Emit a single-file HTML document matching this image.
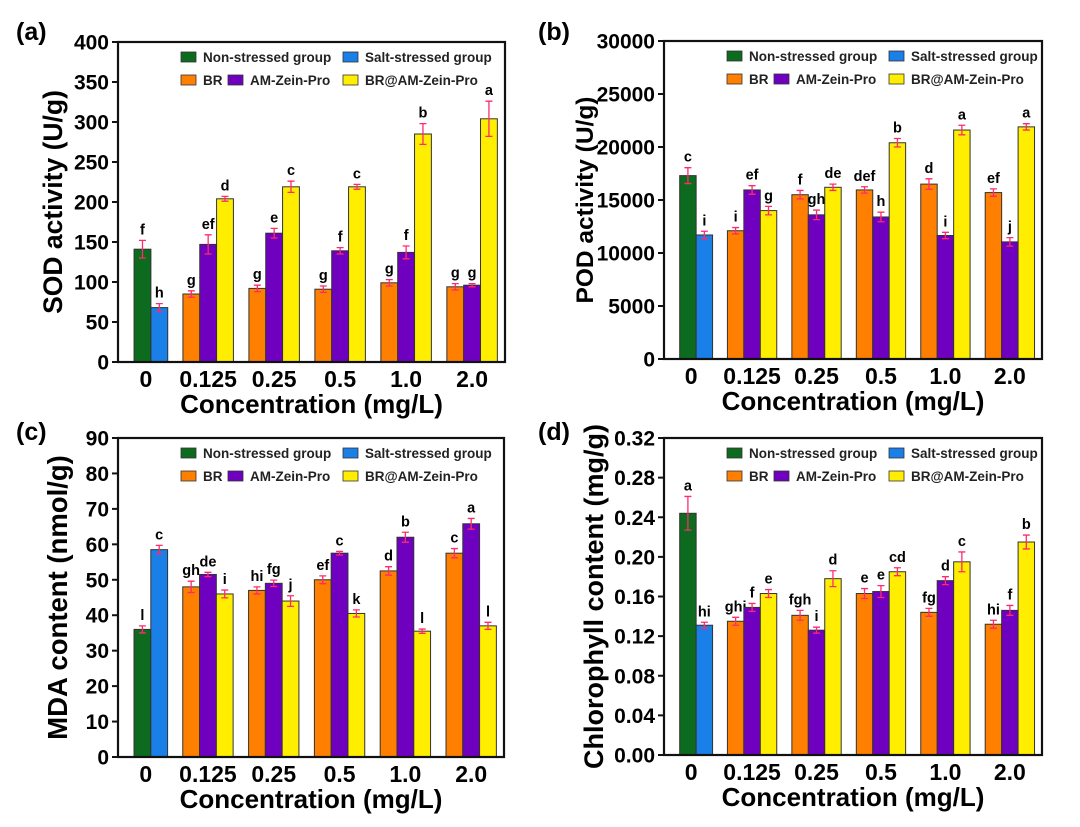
<!DOCTYPE html>
<html><head><meta charset="utf-8"><style>
html,body{margin:0;padding:0;background:#fff}
svg text{font-family:"Liberation Sans",Arial,sans-serif;font-weight:bold}
</style></head><body>
<svg id="fig" width="1080" height="822" viewBox="0 0 1080 822" xmlns="http://www.w3.org/2000/svg"></svg>
<script>
// categories
const categories = ["0","0.125","0.25","0.5","1.0","2.0"];
const seriesNames = ["Non-stressed group","Salt-stressed group","BR","AM-Zein-Pro","BR@AM-Zein-Pro"];
// (a) SOD
const sodCtrl = [141, 68], sodCtrlErr = [11, 5], sodCtrlLet = ["f","h"];
const sodBR = [85, 92, 91, 99, 94], sodBRErr = [4, 4, 4, 4, 4], sodBRLet = ["g","g","g","g","g"];
const sodAM = [147, 161, 139, 137, 96], sodAMErr = [12, 6, 4, 8, 2], sodAMLet = ["ef","e","f","f","g"];
const sodBA = [204, 219, 219, 285, 304], sodBAErr = [3, 7, 3, 13, 22], sodBALet = ["d","c","c","b","a"];
const sodTicks = ["0","50","100","150","200","250","300","350","400"];
// (b) POD
const podCtrl = [17300, 11700], podCtrlErr = [750, 350], podCtrlLet = ["c","i"];
const podBR = [12100, 15500, 15950, 16500, 15700], podBRErr = [300, 400, 300, 500, 350], podBRLet = ["i","f","def","d","ef"];
const podAM = [15950, 13600, 13400, 11650, 11050], podAMErr = [400, 450, 450, 300, 400], podAMLet = ["ef","gh","h","i","j"];
const podBA = [14000, 16200, 20400, 21600, 21900], podBAErr = [400, 300, 400, 450, 300], podBALet = ["g","de","b","a","a"];
const podTicks = ["0","5000","10000","15000","20000","25000","30000"];
// (c) MDA
const mdaCtrl = [36, 58.5], mdaCtrlErr = [1, 1.2], mdaCtrlLet = ["l","c"];
const mdaBR = [48, 47, 50, 52.5, 57.5], mdaBRErr = [1.6, 1, 1.1, 1.2, 1.3], mdaBRLet = ["gh","hi","ef","d","c"];
const mdaAM = [51.5, 49, 57.5, 62, 65.8], mdaAMErr = [0.6, 0.9, 0.5, 1.4, 1.5], mdaAMLet = ["de","fg","c","b","a"];
const mdaBA = [46, 44, 40.5, 35.5, 37], mdaBAErr = [1.1, 1.5, 1, 0.6, 1], mdaBALet = ["i","j","k","l","l"];
const mdaTicks = ["0","10","20","30","40","50","60","70","80","90"];
// (d) Chlorophyll
const chlCtrl = [0.244, 0.131], chlCtrlErr = [0.017, 0.003], chlCtrlLet = ["a","hi"];
const chlBR = [0.135, 0.141, 0.163, 0.144, 0.132], chlBRErr = [0.004, 0.005, 0.005, 0.004, 0.004], chlBRLet = ["ghi","fgh","e","fg","hi"];
const chlAM = [0.149, 0.126, 0.165, 0.176, 0.146], chlAMErr = [0.004, 0.003, 0.006, 0.004, 0.005], chlAMLet = ["f","i","e","d","f"];
const chlBA = [0.163, 0.178, 0.185, 0.195, 0.215], chlBAErr = [0.004, 0.008, 0.004, 0.01, 0.007], chlBALet = ["e","d","cd","c","b"];
const chlTicks = ["0.00","0.04","0.08","0.12","0.16","0.20","0.24","0.28","0.32"];

const colors = ["#0d6b1f","#1a7fe6","#ff7f00","#7000c0","#ffee00"];
const NS = "http://www.w3.org/2000/svg";
const svg = document.getElementById("fig");
function mk(tag, attrs, parent) {
  const e = document.createElementNS(NS, tag);
  for (const k in attrs) e.setAttribute(k, attrs[k]);
  (parent || svg).appendChild(e);
  return e;
}
function txt(s, attrs, parent) { const t = mk("text", attrs, parent); t.textContent = s; return t; }

const panels = [
  {id:"a", label:"(a)", L:118, T:42, W:387, H:320, ticks:sodTicks, ymax:400, title:"SOD activity (U/g)", titleX:53, tfs:26.5, lx:16, ly:40,
   ctrl:sodCtrl, ctrlErr:sodCtrlErr, ctrlLet:sodCtrlLet, s:[[sodBR,sodBRErr,sodBRLet],[sodAM,sodAMErr,sodAMLet],[sodBA,sodBAErr,sodBALet]]},
  {id:"b", label:"(b)", L:664, T:41, W:378, H:318, ticks:podTicks, ymax:30000, title:"POD activity (U/g)", titleX:584, tfs:24.5, lx:538, ly:40,
   ctrl:podCtrl, ctrlErr:podCtrlErr, ctrlLet:podCtrlLet, s:[[podBR,podBRErr,podBRLet],[podAM,podAMErr,podAMLet],[podBA,podBAErr,podBALet]]},
  {id:"c", label:"(c)", L:118, T:438, W:386, H:319, ticks:mdaTicks, ymax:90, title:"MDA content  (nmol/g)", titleX:58, tfs:27.5, lx:16, ly:440,
   ctrl:mdaCtrl, ctrlErr:mdaCtrlErr, ctrlLet:mdaCtrlLet, s:[[mdaBR,mdaBRErr,mdaBRLet],[mdaAM,mdaAMErr,mdaAMLet],[mdaBA,mdaBAErr,mdaBALet]]},
  {id:"d", label:"(d)", L:664, T:438, W:378, H:317, ticks:chlTicks, ymax:0.32, title:"Chlorophyll content (mg/g)", titleX:594, tfs:27, lx:538, ly:440,
   ctrl:chlCtrl, ctrlErr:chlCtrlErr, ctrlLet:chlCtrlLet, s:[[chlBR,chlBRErr,chlBRLet],[chlAM,chlAMErr,chlAMLet],[chlBA,chlBAErr,chlBALet]]}
];

panels.forEach(p => {
  const g = mk("g", {});
  
  
  const y = v => p.T + p.H - v / p.ymax * p.H;
  const bw = p.W * 0.0435;
  const gx = i => p.L + p.W * (i === 0 ? 0.085 : 0.233 + 0.1705 * (i - 1));
  const pl = txt(p.label, {x:p.lx, y:p.ly, "font-size":25}, g);
  
  
  function bar(cx, v, err, let_, col, name) {
    const r = mk("rect", {x:cx - bw/2, y:y(v), width:bw, height:y(0) - y(v), fill:col, stroke:"#333", "stroke-width":1}, g);
    
    
    const e1 = y(v + err), e2 = y(v - err);
    const eb = mk("path", {d:`M${cx},${e1}V${e2}M${cx-3.5},${e1}H${cx+3.5}M${cx-3.5},${e2}H${cx+3.5}`, stroke:"#ff2a6d", "stroke-width":1.3, fill:"none"}, g);
    
    
    const lt = txt(let_, {x:cx, y:e1 - 6, "font-size":14.5, "text-anchor":"middle"}, g);
    
    
  }
  bar(gx(0) - bw/2, p.ctrl[0], p.ctrlErr[0], p.ctrlLet[0], colors[0], 'bar-non-stressed');
  bar(gx(0) + bw/2, p.ctrl[1], p.ctrlErr[1], p.ctrlLet[1], colors[1], 'bar-salt-stressed');
  const sn = ['bar-br','bar-am-zein-pro','bar-br-am-zein-pro'];
  for (let i = 1; i < categories.length; i++) {
    p.s.forEach((s, k) => bar(gx(i) + (k - 1) * bw, s[0][i-1], s[1][i-1], s[2][i-1], colors[k+2], sn[k]));
  }
  const fr = mk("rect", {x:p.L, y:p.T, width:p.W, height:p.H, fill:"none", stroke:"#111", "stroke-width":2.2}, g);
  
  
  const n = p.ticks.length - 1;
  p.ticks.forEach((t, i) => {
    const yy = y(p.ymax * i / n);
    mk("line", {x1:p.L - 6, x2:p.L, y1:yy, y2:yy, stroke:"#111", "stroke-width":2}, g);
    const tl = txt(t, {x:p.L - 9, y:yy + 7.5, "font-size":21, "text-anchor":"end"}, g);
    
    
  });
  categories.forEach((c, i) => {
    const xl = txt(c, {x:gx(i) - (i === 0 ? bw*0.3 : 0), y:p.T + p.H + 25, "font-size":23, "text-anchor":"middle"}, g);
    
    
  });
  const xt = txt("Concentration (mg/L)", {x:p.L + p.W/2, y:p.T + p.H + 51, "font-size":26, "text-anchor":"middle"}, g);
  
  
  const cy = p.T + p.H/2;
  const yt = txt(p.title, {x:p.titleX, y:cy, "font-size":p.tfs, "text-anchor":"middle", transform:`rotate(-90 ${p.titleX} ${cy})`, dy:9}, g);
  
  
  const lx = p.L + 63, r1 = p.T + 15, r2 = p.T + 38;
  const items = [[lx, r1, 0],[lx + 162, r1, 1],[lx, r2, 2],[lx + 47, r2, 3],[lx + 162, r2, 4]];
  items.forEach(([x0, y0, k]) => {
    const le = mk("g", {}, g);
    
    
    mk("rect", {x:x0, y:y0 - 5, width:15, height:10, fill:colors[k], stroke:"#333", "stroke-width":0.8}, le);
    txt(seriesNames[k], {x:x0 + 22, y:y0 + 5, "font-size":13.5, fill:"#222"}, le);
  });
});
</script>
</body></html>
